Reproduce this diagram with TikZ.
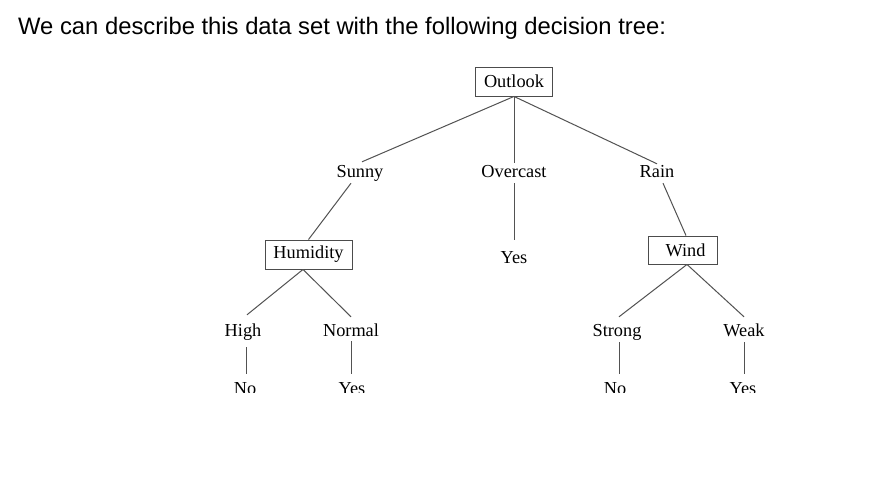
\documentclass[tikz,border=0pt]{standalone}
\usepackage{fontspec}
\setmainfont{Liberation Serif}
\newfontfamily\titlefont{Liberation Sans}
\usetikzlibrary{calc}
\tikzset{
  lbl/.style={anchor=base, inner sep=4pt, text height=12pt, text depth=0pt, font=\fontsize{18.3}{20}\selectfont},
  boxnode/.style={draw=black!70, line width=0.9pt, inner sep=0pt, font=\fontsize{18.3}{20}\selectfont},
  edge/.style={draw=black!68, line width=1pt},
}
\begin{document}
\begin{tikzpicture}[x=1pt, y=-1pt]
\useasboundingbox (0,0) rectangle (878,478);
\fill[white] (0,0) rectangle (878,478);
\node[anchor=base west, inner sep=0pt, font=\titlefont\fontsize{23.8}{26}\selectfont] (title) at (18,35) {We can describe this data set with the following decision tree:};
\begin{scope}
\clip (0,0) rectangle (878,392.5);
% nodes
\node[boxnode, minimum width=77pt, minimum height=29pt] (outlook) at (514,81.5) {Outlook};
\node[lbl] (sunny) at (360,178) {Sunny};
\node[lbl] (overcast) at (514,178) {Overcast};
\node[lbl] (rain) at (657,178) {Rain};
\node[boxnode, minimum width=87pt, minimum height=29pt] (humidity) at (308.5,254.5) {Humidity};
\node[lbl] (yesmid) at (514,264) {Yes};
\node[boxnode, minimum width=69pt, minimum height=28pt, text width=62pt, align=center] (wind) at (682.5,250) {\hspace*{6pt}Wind};
\node[lbl] (high) at (243,336) {High};
\node[lbl] (normal) at (351,336) {Normal};
\node[lbl] (strong) at (617,337) {Strong};
\node[lbl] (weak) at (744,337) {Weak};
\node[lbl] (no1) at (245,394) {No};
\node[lbl] (yes1) at (352,394) {Yes};
\node[lbl] (no2) at (615,394) {No};
\node[lbl] (yes2) at (743,394) {Yes};
% connectors
\draw[edge] (outlook.south) -- ([xshift=2pt]sunny.north);
\draw[edge] (outlook.south) -- ([yshift=-1pt]overcast.north);
\draw[edge] (outlook.south) -- ([yshift=-2pt]rain.north);
\draw[edge] ([xshift=-9pt,yshift=-1pt]sunny.south) -- (humidity.north);
\draw[edge] ([yshift=-1pt]overcast.south) -- ([yshift=8pt]yesmid.north);
\draw[edge] ([xshift=6pt,yshift=-1pt]rain.south) -- ([xshift=3.5pt]wind.north);
\draw[edge] ([xshift=-5.5pt]humidity.south) -- ([xshift=4pt,yshift=5pt]high.north);
\draw[edge] ([xshift=-5.5pt]humidity.south) -- ([yshift=3pt]normal.north);
\draw[edge] ([xshift=4.5pt]wind.south) -- ([xshift=2pt,yshift=4pt]strong.north);
\draw[edge] ([xshift=4.5pt]wind.south) -- ([yshift=4pt]weak.north);
\draw[edge] ([xshift=3pt,yshift=-7pt]high.south) -- ([xshift=1pt,yshift=4pt]no1.north);
\draw[edge] ([yshift=-1pt]normal.south) -- ([xshift=-1pt,yshift=4pt]yes1.north);
\draw[edge] ([xshift=2pt,yshift=-1pt]strong.south) -- ([xshift=4pt,yshift=4pt]no2.north);
\draw[edge] ([yshift=-1pt]weak.south) -- ([xshift=1pt,yshift=4pt]yes2.north);
\end{scope}
\end{tikzpicture}
\end{document}
